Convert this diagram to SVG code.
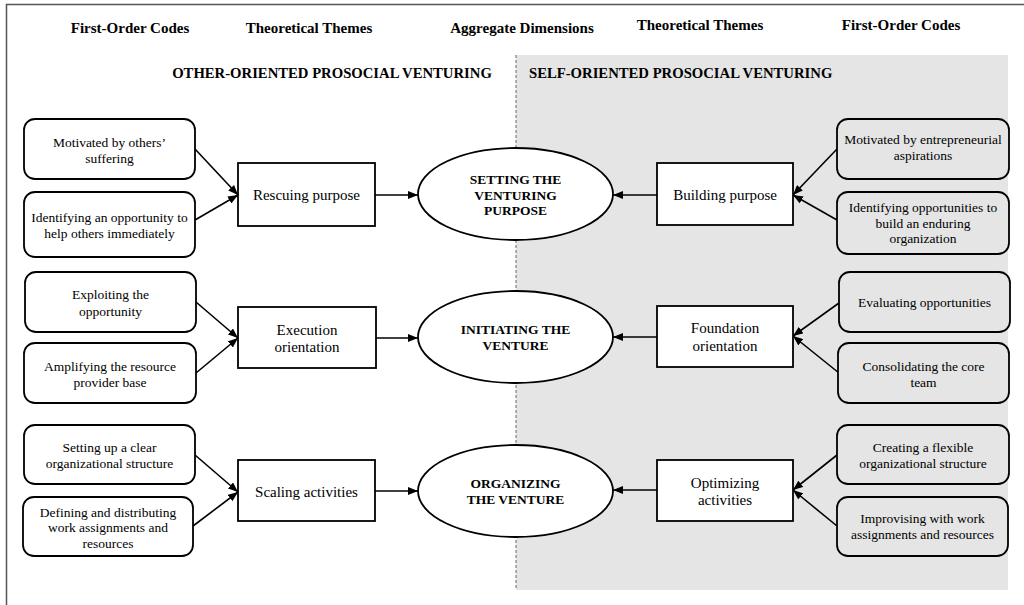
<svg xmlns="http://www.w3.org/2000/svg" width="1024" height="605" viewBox="0 0 1024 605" font-family="'Liberation Serif', 'DejaVu Serif', serif">
<defs>
<marker id="ah" markerUnits="userSpaceOnUse" markerWidth="10" markerHeight="8" refX="10" refY="4" orient="auto">
<path d="M0,0 L10,4 L0,8 z" fill="#000"/>
</marker>
<style>
text{font-family:'Liberation Serif','DejaVu Serif',serif;fill:#000;text-anchor:middle}
.hd{font-size:15px;font-weight:bold}
.sec{font-size:14.7px;font-weight:bold}
.code{font-size:13.5px}
.theme{font-size:15px}
.dim{font-size:13.5px;font-weight:bold}
.cbox{fill:#fff;stroke:#000;stroke-width:1.8}
.cboxg{fill:#e5e5e5;stroke:#000;stroke-width:1.8}
.tbox{fill:#fff;stroke:#000;stroke-width:1.8}
.ell{fill:#fff;stroke:#000;stroke-width:1.8}
.conn line{stroke:#000;stroke-width:1.6;marker-end:url(#ah)}
</style>
</defs>
<rect width="1024" height="605" fill="#fff"/>
<rect x="516" y="55" width="492" height="535" fill="#e5e5e5"/>
<line x1="516" y1="55" x2="516" y2="590" stroke="#666" stroke-width="1" stroke-dasharray="3,2"/>
<path d="M6.5,605 V4.5 H1024" fill="none" stroke="#555" stroke-width="1.5"/>

<g id="headers">
<text class="hd" x="130" y="33">First-Order Codes</text>
<text class="hd" x="309" y="33">Theoretical Themes</text>
<text class="hd" x="522" y="33">Aggregate Dimensions</text>
<text class="hd" x="700" y="30">Theoretical Themes</text>
<text class="hd" x="901" y="30">First-Order Codes</text>
<text class="sec" x="332" y="78">OTHER-ORIENTED PROSOCIAL VENTURING</text>
<text class="sec" x="529" y="78" style="text-anchor:start">SELF-ORIENTED PROSOCIAL VENTURING</text>
</g>

<g id="conn" class="conn">
<line x1="195" y1="149" x2="238" y2="195"/>
<line x1="195" y1="220" x2="238" y2="195"/>
<line x1="196" y1="302" x2="238" y2="338"/>
<line x1="196" y1="373" x2="238" y2="338"/>
<line x1="195" y1="455" x2="238" y2="492"/>
<line x1="193" y1="526" x2="238" y2="492"/>
<line x1="837" y1="149" x2="793" y2="195"/>
<line x1="837" y1="220" x2="793" y2="195"/>
<line x1="839" y1="303" x2="793" y2="336"/>
<line x1="839" y1="373" x2="793" y2="336"/>
<line x1="837" y1="455" x2="793" y2="490"/>
<line x1="837" y1="526" x2="793" y2="490"/>
<line x1="375" y1="195" x2="418" y2="195"/>
<line x1="376" y1="338" x2="418" y2="338"/>
<line x1="375" y1="491" x2="418" y2="491"/>
<line x1="657" y1="195" x2="613" y2="195"/>
<line x1="657" y1="337" x2="613" y2="337"/>
<line x1="657" y1="490" x2="613" y2="490"/>
</g>

<g id="l1"><rect class="cbox" x="24" y="119" width="171" height="60" rx="11"/>
<text class="code" x="109.5" y="146.5">Motivated by others’</text><text class="code" x="109.5" y="162.5">suffering</text></g>
<g id="l2"><rect class="cbox" x="24" y="192" width="171" height="65" rx="11"/>
<text class="code" x="109.5" y="221.5">Identifying an opportunity to</text><text class="code" x="109.5" y="237.5">help others immediately</text></g>
<g id="l3"><rect class="cbox" x="25" y="272" width="171" height="60" rx="11"/>
<text class="code" x="110.5" y="299">Exploiting the</text><text class="code" x="110.5" y="315.5">opportunity</text></g>
<g id="l4"><rect class="cbox" x="24" y="343" width="172" height="60" rx="11"/>
<text class="code" x="110" y="370.5">Amplifying the resource</text><text class="code" x="110" y="386.5">provider base</text></g>
<g id="l5"><rect class="cbox" x="24" y="425" width="171" height="59" rx="11"/>
<text class="code" x="109.5" y="451.5">Setting up a clear</text><text class="code" x="109.5" y="467.5">organizational structure</text></g>
<g id="l6"><rect class="cbox" x="23" y="497" width="170" height="59" rx="11"/>
<text class="code" x="108" y="516.5">Defining and distributing</text><text class="code" x="108" y="532">work assignments and</text><text class="code" x="108" y="547.5">resources</text></g>

<g id="t1"><rect class="tbox" x="238" y="163" width="137" height="63"/>
<text class="theme" x="306.5" y="200">Rescuing purpose</text></g>
<g id="t2"><rect class="tbox" x="238" y="307" width="138" height="61"/>
<text class="theme" x="307" y="335">Execution</text><text class="theme" x="307" y="352">orientation</text></g>
<g id="t3"><rect class="tbox" x="238" y="460" width="137" height="61"/>
<text class="theme" x="306.5" y="497">Scaling activities</text></g>

<g id="d1"><ellipse class="ell" cx="515.5" cy="194" rx="97.5" ry="46"/>
<text class="dim" x="515.5" y="183.5">SETTING THE</text><text class="dim" x="515.5" y="199.5">VENTURING</text><text class="dim" x="515.5" y="214.5">PURPOSE</text></g>
<g id="d2"><ellipse class="ell" cx="515.5" cy="337" rx="97.5" ry="46"/>
<text class="dim" x="515.5" y="333.5">INITIATING THE</text><text class="dim" x="515.5" y="349.5">VENTURE</text></g>
<g id="d3"><ellipse class="ell" cx="515.5" cy="491" rx="97.5" ry="46"/>
<text class="dim" x="515.5" y="487.5">ORGANIZING</text><text class="dim" x="515.5" y="503.5">THE VENTURE</text></g>

<g id="t4"><rect class="tbox" x="657" y="163" width="136" height="62"/>
<text class="theme" x="725" y="200">Building purpose</text></g>
<g id="t5"><rect class="tbox" x="657" y="306" width="136" height="61"/>
<text class="theme" x="725" y="333">Foundation</text><text class="theme" x="725" y="351">orientation</text></g>
<g id="t6"><rect class="tbox" x="657" y="460" width="136" height="61"/>
<text class="theme" x="725" y="488">Optimizing</text><text class="theme" x="725" y="505">activities</text></g>

<g id="r1"><rect class="cboxg" x="837" y="119" width="172" height="60" rx="11"/>
<text class="code" x="923" y="143.5">Motivated by entrepreneurial</text><text class="code" x="923" y="159.5">aspirations</text></g>
<g id="r2"><rect class="cboxg" x="837" y="192" width="172" height="62" rx="11"/>
<text class="code" x="923" y="211.5">Identifying opportunities to</text><text class="code" x="923" y="227.5">build an enduring</text><text class="code" x="923" y="242.5">organization</text></g>
<g id="r3"><rect class="cboxg" x="839" y="272" width="171" height="60" rx="11"/>
<text class="code" x="924.5" y="306.5">Evaluating opportunities</text></g>
<g id="r4"><rect class="cboxg" x="838" y="343" width="171" height="60" rx="11"/>
<text class="code" x="923.5" y="370.5">Consolidating the core</text><text class="code" x="923.5" y="386.5">team</text></g>
<g id="r5"><rect class="cboxg" x="837" y="425" width="172" height="59" rx="11"/>
<text class="code" x="923" y="451.5">Creating a flexible</text><text class="code" x="923" y="467.5">organizational structure</text></g>
<g id="r6"><rect class="cboxg" x="837" y="497" width="171" height="59" rx="11"/>
<text class="code" x="922.5" y="522.5">Improvising with work</text><text class="code" x="922.5" y="539">assignments and resources</text></g>
</svg>
